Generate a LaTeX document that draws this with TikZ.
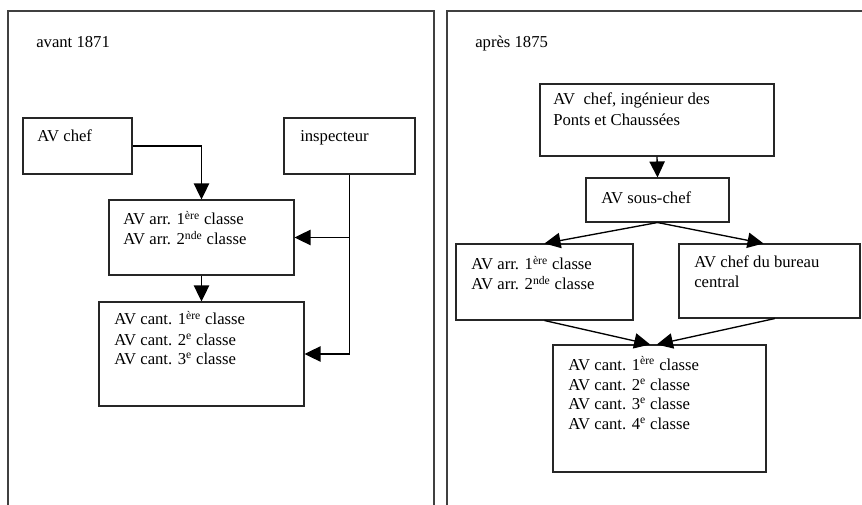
\documentclass[tikz,border=0pt]{standalone}
\usepackage{fontspec}
\setmainfont{Liberation Serif}
\usetikzlibrary{arrows.meta,fit}
\begin{document}
\begin{tikzpicture}[x=0.75pt,y=-0.75pt,
  frame/.style={draw=black!75, line width=1.4pt},
  box/.style={draw=black!85, line width=0.8pt, inner sep=0pt, rectangle},
  txt/.style={anchor=base west, inner sep=0pt, font=\fontsize{12.5}{15}\selectfont},
  arr/.style={draw=black, line width=1pt, -{Triangle[length=12pt,width=11.5pt]}},
  ln/.style={draw=black, line width=1pt}]
\useasboundingbox (0,0) rectangle (862,505);
% frames
\draw[frame] (8,505) -- (8,11) -- (434,11) -- (434,505);
\draw[frame] (447,505) -- (447,11) -- (862,11);
% left panel
\node[txt] (t1871) at (36,48) {avant 1871};
\node[box, fit={(23,118) (132,174)}] (chefL) {};
\node[txt] (chefLt) at (37,142) {AV chef};
\node[box, fit={(284,118) (415,174)}] (insp) {};
\node[txt] (inspt) at (300,142) {inspecteur};
\node[box, fit={(109,200) (294,275)}] (arrL) {};
\node[txt] (arrLa) at (123,225) {AV arr. 1\textsuperscript{ère} classe};
\node[txt] (arrLb) at (123,245) {AV arr. 2\textsuperscript{nde} classe};
\node[box, fit={(99,302) (304,406)}] (cantL) {};
\node[txt] (cantLa) at (114,325) {AV cant. 1\textsuperscript{ère} classe};
\node[txt] (cantLb) at (114,345) {AV cant. 2\textsuperscript{e} classe};
\node[txt] (cantLc) at (114,364) {AV cant. 3\textsuperscript{e} classe};
\draw[arr] (chefL.east) -| (arrL.north);
\draw[arr] (arrL.south) -- (cantL.north);
\draw[arr] (insp.south) |- (cantL.east);
\coordinate (jL) at (insp.south |- arrL.east);
\draw[arr] (jL) -- (arrL.east);
% right panel
\node[txt] (t1875) at (475,48) {après 1875};
\node[box, fit={(540,84) (774,156)}] (topR) {};
\node[txt] (topRa) at (553,105) {AV\ \ chef, ingénieur des};
\node[txt] (topRb) at (553,126) {Ponts et Chaussées};
\node[box, fit={(586,178) (729,222)}] (sous) {};
\node[txt] (soust) at (601,204) {AV sous-chef};
\node[box, fit={(456,244) (633,320)}] (arrR) {};
\node[txt] (arrRa) at (471,270) {AV arr. 1\textsuperscript{ère} classe};
\node[txt] (arrRb) at (471,290) {AV arr. 2\textsuperscript{nde} classe};
\node[box, fit={(679,244) (860,318)}] (bureau) {};
\node[txt] (bureaua) at (694,268) {AV chef du bureau};
\node[txt] (bureaub) at (694,288) {central};
\node[box, fit={(553,345) (766,472)}] (cantR) {};
\node[txt] (cantRa) at (568,370) {AV cant. 1\textsuperscript{ère} classe};
\node[txt] (cantRb) at (568,390) {AV cant. 2\textsuperscript{e} classe};
\node[txt] (cantRc) at (568,409) {AV cant. 3\textsuperscript{e} classe};
\node[txt] (cantRd) at (568,429) {AV cant. 4\textsuperscript{e} classe};
\draw[arr] (topR.south) -- (sous.north);
\draw[arr] (sous.south) -- (arrR.north);
\draw[arr] (sous.south) -- ([xshift=-4.5pt]bureau.north);
\draw[arr] (arrR.south) -- ([xshift=-7pt]cantR.north);
\draw[arr] ([xshift=4pt]bureau.south) -- ([xshift=-2pt]cantR.north);
\end{tikzpicture}
\end{document}
